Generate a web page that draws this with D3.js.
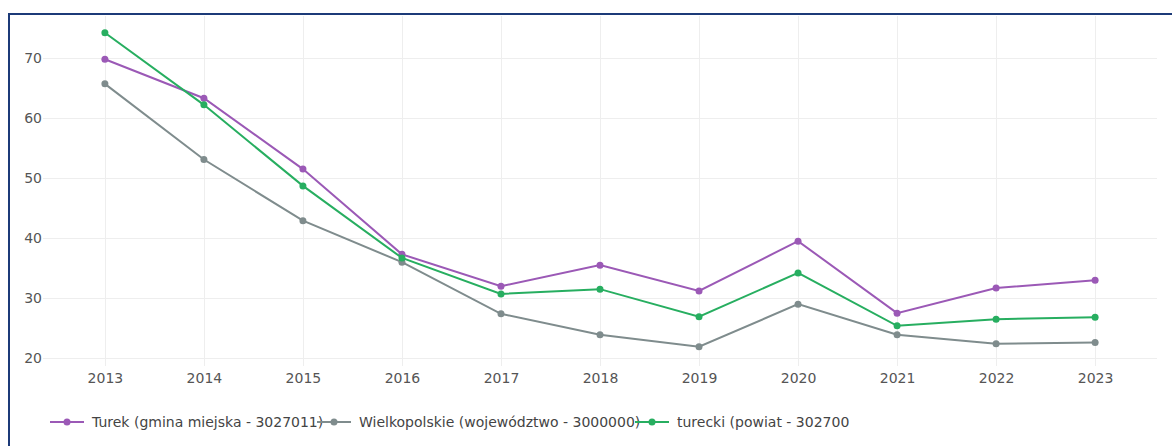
<!DOCTYPE html>
<html lang="pl">
<head>
<meta charset="utf-8">
<title>Turek</title>
<script src="https://cdn.jsdelivr.net/npm/d3@7"></script>
<style>
  html, body { margin: 0; padding: 0; background: #fff; }
  body { font-family: "DejaVu Sans", Verdana, sans-serif; }
</style>
</head>
<body>
<script>
// data
const years = [2013, 2014, 2015, 2016, 2017, 2018, 2019, 2020, 2021, 2022, 2023];
const turek = [69.8, 63.3, 51.5, 37.3, 32.0, 35.5, 31.2, 39.5, 27.5, 31.7, 33.0];
const wielkopolskie = [65.7, 53.1, 42.9, 36.0, 27.4, 23.9, 21.9, 29.0, 23.9, 22.4, 22.6];
const turecki = [74.2, 62.2, 48.7, 36.7, 30.7, 31.5, 26.9, 34.2, 25.4, 26.5, 26.8];
const seriesNames = ["Turek (gmina miejska - 3027011)", "Wielkopolskie (województwo - 3000000)", "turecki (powiat - 302700"];
const seriesColors = ["#9b59b6", "#7f8c8d", "#27ae60"];
const yTicks = [20, 30, 40, 50, 60, 70];

const series = [turek, wielkopolskie, turecki].map((v, i) => ({
  name: seriesNames[i], color: seriesColors[i],
  values: years.map((yr, j) => ({ year: yr, value: v[j] }))
}));

const w = 1172, h = 446;
const svg = d3.select("body").append("svg")
  .attr("width", w).attr("height", h)
  .style("display", "block");

// frame
svg.append("path")
  .attr("d", `M9,${h} L9,14 L${w},14`)
  .attr("fill", "none")
  .attr("stroke", "#1c3a78")
  .attr("stroke-width", 2);

const mLeft = 43, mRight = 1157, mTop = 16, mBottom = 366;

const x = d3.scaleLinear([2012.375, 2023.625], [mLeft, mRight]);
const y = d3.scaleLinear([18.7, 77], [mBottom, mTop]);

// grid
const grid = svg.append("g").attr("stroke", "#eeeeee").attr("stroke-width", 1);
grid.selectAll("line.v").data(years).join("line")
  .attr("class", "v")
  .attr("x1", d => Math.round(x(d)) + 0.5).attr("x2", d => Math.round(x(d)) + 0.5)
  .attr("y1", mTop).attr("y2", mBottom);
grid.selectAll("line.h").data(yTicks).join("line")
  .attr("class", "h")
  .attr("y1", d => Math.round(y(d)) + 0.5).attr("y2", d => Math.round(y(d)) + 0.5)
  .attr("x1", mLeft).attr("x2", mRight);

// axes
const xAxis = svg.append("g")
  .attr("transform", `translate(0,${mBottom})`)
  .call(d3.axisBottom(x).tickValues(years).tickFormat(d3.format("d")).tickSize(0).tickPadding(7));
const yAxis = svg.append("g")
  .attr("transform", `translate(${mLeft},0)`)
  .call(d3.axisLeft(y).tickValues(yTicks).tickSize(0).tickPadding(1));
[xAxis, yAxis].forEach(a => {
  a.select(".domain").remove();
  a.selectAll("text")
    .attr("fill", "#555")
    .style("font-family", '"DejaVu Sans", Verdana, sans-serif')
    .style("font-size", "14px");
});

// lines
const line = d3.line().x(d => x(d.year)).y(d => y(d.value));
const g = svg.append("g");
series.forEach(s => {
  g.append("path")
    .datum(s.values)
    .attr("fill", "none")
    .attr("stroke", s.color)
    .attr("stroke-width", 2)
    .attr("d", line);
  g.selectAll(null).data(s.values).join("circle")
    .attr("cx", d => x(d.year))
    .attr("cy", d => y(d.value))
    .attr("r", 3.5)
    .attr("fill", s.color);
});

// legend
const legendX = [50, 317, 635];
const legendY = 422;
const lg = svg.append("g");
series.forEach((s, i) => {
  const it = lg.append("g").attr("transform", `translate(${legendX[i]},${legendY})`);
  it.append("line").attr("x1", 0).attr("x2", 34)
    .attr("stroke", s.color).attr("stroke-width", 2);
  it.append("circle").attr("cx", 17).attr("r", 3.5).attr("fill", s.color);
  it.append("text")
    .attr("x", 42).attr("dy", "0.35em")
    .attr("fill", "#444")
    .style("font-size", "14px")
    .text(s.name);
});
</script>
</body>
</html>
